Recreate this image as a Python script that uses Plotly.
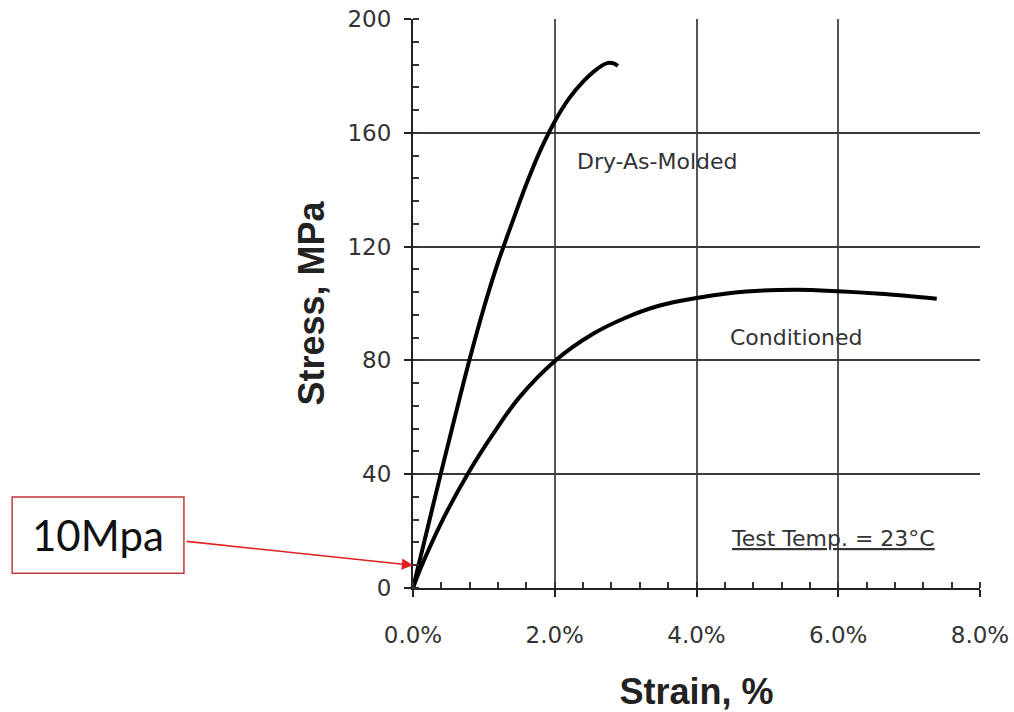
import plotly.graph_objects as go

# Data (strain in %, stress in MPa)
dry_strain = [0.0, 0.2, 0.4, 0.6, 0.8, 1.0, 1.2, 1.4, 1.6, 1.8, 2.0, 2.2, 2.4, 2.6, 2.74, 2.84, 2.89]
dry_stress = [0, 20.5, 41, 61, 80.5, 98.5, 114.5, 128.5, 142, 154, 164, 172, 178, 182.5, 184.5, 184.3, 183.5]

cond_strain = [0.0, 0.1, 0.4, 0.77, 1.14, 1.5, 2.01, 2.53, 3.0, 3.47, 4.0, 4.7, 5.41, 6.0, 6.59, 7.39]
cond_stress = [0, 6.5, 23, 40, 54.5, 67, 80, 89.2, 95, 99.2, 101.9, 104.2, 104.8, 104.3, 103.4, 101.7]

x_ticks = [0, 2, 4, 6, 8]
x_ticktext = ["0.0%", "2.0%", "4.0%", "6.0%", "8.0%"]
y_ticks = [0, 40, 80, 120, 160, 200]

fig = go.Figure()
fig.add_trace(go.Scatter(x=dry_strain, y=dry_stress, mode="lines",
                         line=dict(color="black", width=4, shape="spline", smoothing=1.0),
                         name="Dry-As-Molded", showlegend=False))
fig.add_trace(go.Scatter(x=cond_strain, y=cond_stress, mode="lines",
                         line=dict(color="black", width=4, shape="spline", smoothing=1.0),
                         name="Conditioned", showlegend=False))

tickfont = dict(family="DejaVu Sans", size=23, color="#333")
titlefont = dict(family="Liberation Sans, Arial", size=36, color="#222")
fig.update_xaxes(range=[0, 8], tickvals=x_ticks, ticktext=x_ticktext, tickfont=tickfont,
                 showgrid=True, gridcolor="#555", gridwidth=1.5,
                 showline=True, linecolor="#222", linewidth=2,
                 ticks="outside", ticklen=7, tickcolor="#222", tickwidth=1.5,
                 minor=dict(ticks="inside", dtick=0.4, ticklen=6, tickcolor="#333", showgrid=False),
                 ticklabelstandoff=18, zeroline=False, automargin=False,
                 title=dict(text="<b>Strain, %</b>", font=titlefont, standoff=32))
fig.update_yaxes(range=[0, 200], tickvals=y_ticks, tickfont=tickfont,
                 showgrid=True, gridcolor="#3a3a3a", gridwidth=1.5,
                 showline=True, linecolor="#222", linewidth=2,
                 ticks="outside", ticklen=7, tickcolor="#222", tickwidth=1.5,
                 minor=dict(ticks="inside", dtick=8, ticklen=6, tickcolor="#333", showgrid=False),
                 ticklabelstandoff=8, zeroline=False, automargin=False,
                 title=dict(text="<b>Stress, MPa</b>", font=titlefont, standoff=12))

lab = dict(family="DejaVu Sans", size=22, color="#333")
fig.add_annotation(x=3.45, y=150, text="Dry-As-Molded", showarrow=False, font=lab)
fig.add_annotation(x=5.41, y=88, text="Conditioned", showarrow=False, font=lab)
fig.add_annotation(x=5.93, y=17.5, text="<u>Test Temp. = 23°C</u>", showarrow=False, font=lab)

# 10Mpa call-out box
fig.add_shape(type="rect", xref="paper", yref="paper", x0=-0.707, x1=-0.404, y0=0.026, y1=0.160,
              line=dict(color="#c0393b", width=1.5), fillcolor="white")
fig.add_annotation(xref="paper", yref="paper", x=-0.5556, y=0.093, xanchor="center", yanchor="middle",
                   text="10Mpa", showarrow=False,
                   font=dict(family="Lato, Open Sans", size=42, color="#111"))
fig.add_annotation(x=0.0, y=8, text="", showarrow=True, ax=-228, ay=-24, axref="pixel", ayref="pixel",
                   arrowcolor="#e02020", arrowwidth=1.6, arrowhead=2, arrowsize=1.4, standoff=0)

fig.update_layout(width=1014, height=712, margin=dict(l=413, r=34, t=19, b=124),
                  plot_bgcolor="white", paper_bgcolor="white")

fig.write_html("out.html", config={"displayModeBar": False},
               post_script="document.body.style.margin='0';")
